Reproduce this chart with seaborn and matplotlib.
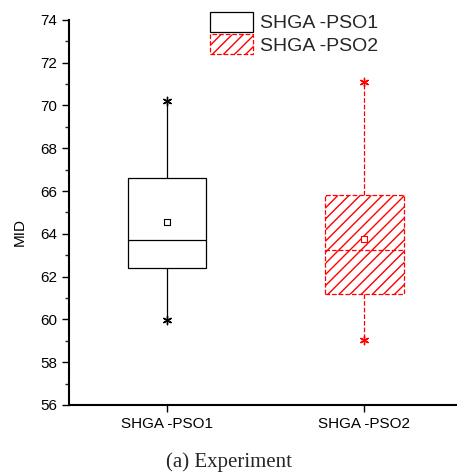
import numpy as np
import pandas as pd
import matplotlib
matplotlib.use("Agg")
import matplotlib.pyplot as plt
from matplotlib.patches import Patch
from matplotlib.ticker import MultipleLocator
import seaborn as sns

# ---- data ----
categories = ["SHGA -PSO1", "SHGA -PSO2"]
mins = [59.95, 59.04]
q1s = [62.40, 61.18]
medians = [63.73, 63.23]
q3s = [66.60, 65.82]
maxs = [70.20, 71.10]
means = [64.56, 63.75]
colors = ["black", "red"]

# five-number samples so that seaborn's quartiles reproduce the summary
rows = []
for c, a, b, m, d, e in zip(categories, mins, q1s, medians, q3s, maxs):
    for v in (a, b, m, d, e):
        rows.append({"alg": c, "MID": v})
df = pd.DataFrame(rows)

sns.set_style("ticks")
plt.rcParams["font.family"] = ["Liberation Sans", "DejaVu Sans"]
plt.rcParams["hatch.linewidth"] = 1.0

fig = plt.figure(figsize=(4.57, 4.72), dpi=100)
ax = fig.add_axes([0.151, 0.142, 0.849, 0.816])

for i, (c, col) in enumerate(zip(categories, colors)):
    ls = "-" if i == 0 else "--"
    sub = df[df["alg"] == c]
    sns.boxplot(data=sub, x="alg", y="MID", order=categories, ax=ax,
                whis=(0, 100), width=0.4, color="white", linecolor=col,
                linewidth=0.9, showcaps=False, showfliers=False,
                boxprops=dict(linestyle=ls),
                whiskerprops=dict(linestyle=ls),
                medianprops=dict(linestyle=ls))
    if i == 1:
        ax.patches[-1].set_hatch("///")
    sns.stripplot(x=[c, c], y=[mins[i], maxs[i]], order=categories, ax=ax,
                  color=col, marker=(6, 2, 0), size=6, jitter=False,
                  linewidth=1.0)
    sns.stripplot(x=[c], y=[means[i]], order=categories, ax=ax,
                  color="white", edgecolor=col, marker="s", size=4,
                  jitter=False, linewidth=0.8)

ax.set_ylim(56, 74)
ax.set_xlim(-0.497, 1.47)
ax.yaxis.set_major_locator(MultipleLocator(2))
ax.yaxis.set_minor_locator(MultipleLocator(1))
ax.tick_params(axis="both", which="major", direction="out", length=5,
               width=1.0, labelsize=11, color="black", labelcolor="black")
ax.tick_params(axis="y", which="minor", direction="out", length=3, width=1.0)
for s in ("top", "right"):
    ax.spines[s].set_visible(False)
for s in ("left", "bottom"):
    ax.spines[s].set_linewidth(1.5)
    ax.spines[s].set_color("black")
ax.set_xlabel("")
ax.set_ylabel("MID", fontsize=11, color="black")
ax.yaxis.set_label_coords(-0.108, 0.45)

handles = [
    Patch(facecolor="white", edgecolor="black", linewidth=0.9),
    Patch(facecolor="white", edgecolor="red", hatch="///", linewidth=0.9,
          linestyle="--"),
]
fig.legend(handles, categories, loc="upper left",
           bbox_to_anchor=(0.459, 0.975), frameon=False, fontsize=14,
           handlelength=2.2, handleheight=1.2, labelspacing=0.1,
           handletextpad=0.4, borderaxespad=0.0, borderpad=0.0)

fig.text(0.5, 0.0, "(a) Experiment", ha="center", va="bottom",
         fontsize=15, family=["Liberation Serif", "DejaVu Serif"])

fig.savefig("out.png", dpi=100)
